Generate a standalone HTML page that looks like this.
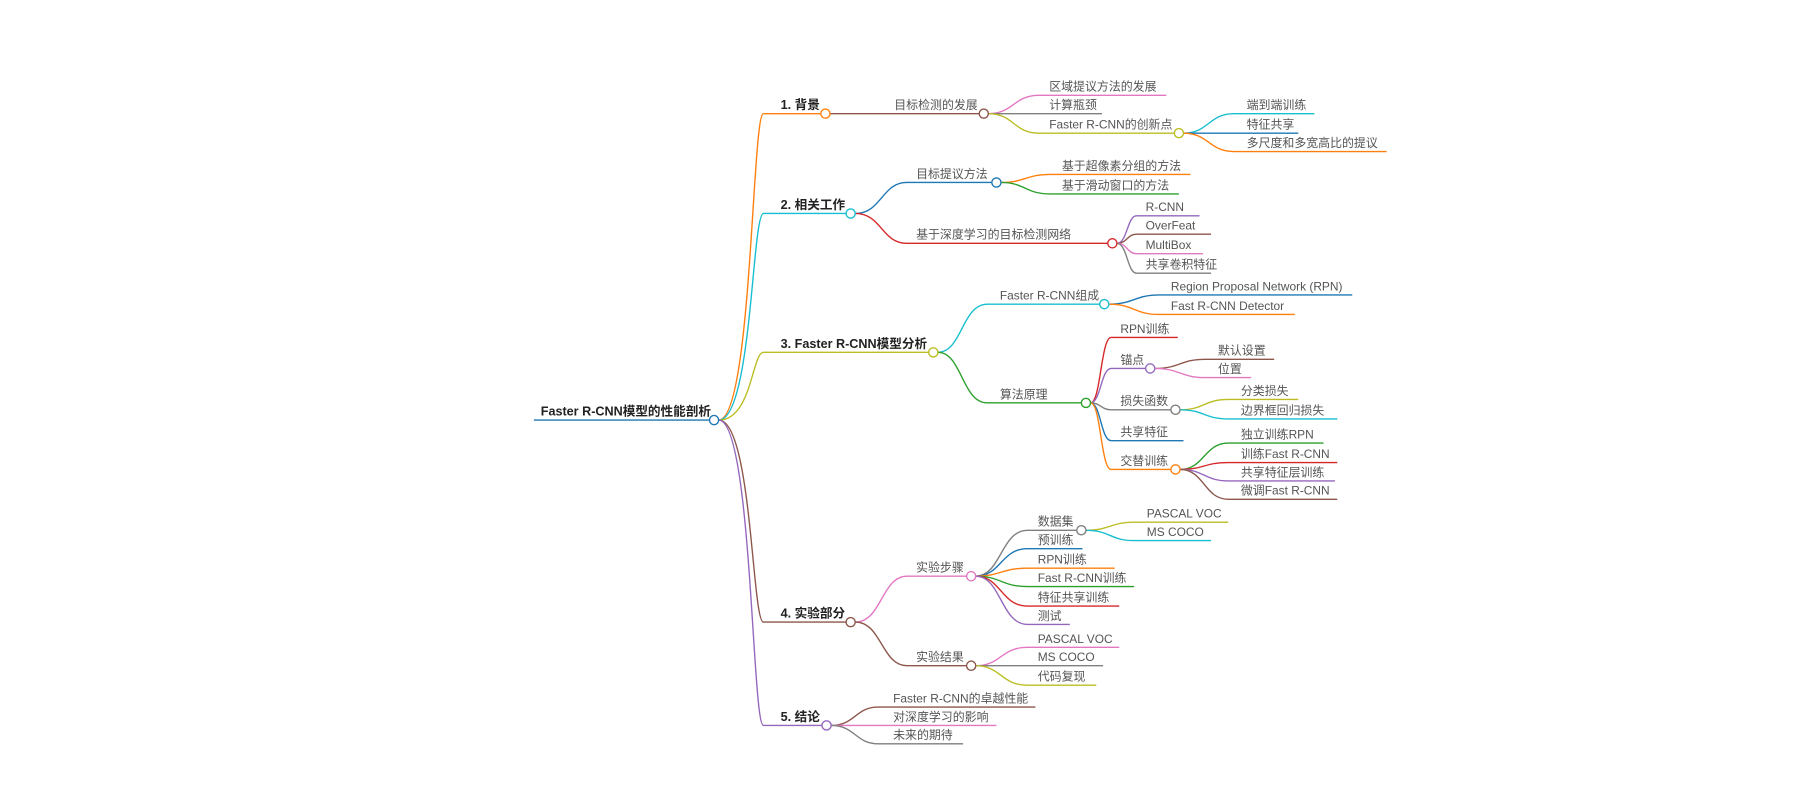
<!DOCTYPE html>
<html><head><meta charset="utf-8"><style>
html,body{margin:0;padding:0;background:#fff;width:1800px;height:800px;overflow:hidden}
svg text{font-family:"Liberation Sans","Noto Sans CJK SC",sans-serif;font-size:10.4px;fill:#555}
svg text.b{font-weight:bold;fill:#222;font-size:11px}
path{fill:none;stroke-width:1.2}
circle{fill:#fff;stroke-width:1.2}
</style></head><body>
<svg width="1800" height="800" viewBox="0 0 1568 697" xmlns="http://www.w3.org/2000/svg">
<path d="M465 366 L618 366" stroke="#1f77b4"/>
<path d="M626 366 C655 366,655 99,665 99 L715 99" stroke="#ff7f0e"/>
<path d="M626 366 C655 366,655 186,665 186 L737 186" stroke="#17becf"/>
<path d="M626 366 C655 366,655 307,665 307 L809 307" stroke="#bcbd22"/>
<path d="M626 366 C655 366,655 542,665 542 L737 542" stroke="#8c564b"/>
<path d="M626 366 C655 366,655 632,665 632 L716 632" stroke="#9467bd"/>
<path d="M723 99 L853 99" stroke="#8c564b"/>
<path d="M861 99 C883 99,883 83,905 83 L1016 83" stroke="#e377c2"/>
<path d="M861 99 L960 99" stroke="#7f7f7f"/>
<path d="M861 99 C883 99,883 116,905 116 L1023 116" stroke="#bcbd22"/>
<path d="M1031 116 C1053 116,1053 99,1075 99 L1145 99" stroke="#17becf"/>
<path d="M1031 116 L1131 116" stroke="#1f77b4"/>
<path d="M1031 116 C1053 116,1053 132,1075 132 L1208 132" stroke="#ff7f0e"/>
<path d="M745 186 C768 186,768 159,790 159 L864 159" stroke="#1f77b4"/>
<path d="M745 186 C768 186,768 212,790 212 L965 212" stroke="#d62728"/>
<path d="M872 159 C893 159,893 152,915 152 L1037 152" stroke="#ff7f0e"/>
<path d="M872 159 C893 159,893 169,915 169 L1027 169" stroke="#2ca02c"/>
<path d="M973 212 C982 212,982 188,990 188 L1045 188" stroke="#9467bd"/>
<path d="M973 212 C982 212,982 204,990 204 L1055 204" stroke="#8c564b"/>
<path d="M973 212 C982 212,982 221,990 221 L1048 221" stroke="#e377c2"/>
<path d="M973 212 C982 212,982 238,990 238 L1055 238" stroke="#7f7f7f"/>
<path d="M817 307 C838 307,838 265,860 265 L958 265" stroke="#17becf"/>
<path d="M817 307 C838 307,838 351,860 351 L942 351" stroke="#2ca02c"/>
<path d="M966 265 C988 265,988 257,1010 257 L1178 257" stroke="#1f77b4"/>
<path d="M966 265 C988 265,988 274,1010 274 L1128 274" stroke="#ff7f0e"/>
<path d="M950 351 C959 351,959 294,968 294 L1026 294" stroke="#d62728"/>
<path d="M950 351 C959 351,959 321,968 321 L998 321" stroke="#9467bd"/>
<path d="M950 351 C959 351,959 357,968 357 L1020 357" stroke="#7f7f7f"/>
<path d="M950 351 C959 351,959 384,968 384 L1031 384" stroke="#1f77b4"/>
<path d="M950 351 C959 351,959 409,968 409 L1020 409" stroke="#ff7f0e"/>
<path d="M1006 321 C1028 321,1028 313,1050 313 L1110 313" stroke="#8c564b"/>
<path d="M1006 321 C1028 321,1028 329,1050 329 L1090 329" stroke="#e377c2"/>
<path d="M1028 357 C1049 357,1049 348,1070 348 L1131 348" stroke="#bcbd22"/>
<path d="M1028 357 C1049 357,1049 365,1070 365 L1165 365" stroke="#17becf"/>
<path d="M1028 409 C1049 409,1049 386,1070 386 L1153 386" stroke="#2ca02c"/>
<path d="M1028 409 C1049 409,1049 403,1070 403 L1165 403" stroke="#d62728"/>
<path d="M1028 409 C1049 409,1049 419,1070 419 L1163 419" stroke="#9467bd"/>
<path d="M1028 409 C1049 409,1049 435,1070 435 L1165 435" stroke="#8c564b"/>
<path d="M745 542 C768 542,768 502,790 502 L842 502" stroke="#e377c2"/>
<path d="M745 542 C768 542,768 580,790 580 L842 580" stroke="#8c564b"/>
<path d="M850 502 C872 502,872 462,895 462 L938 462" stroke="#7f7f7f"/>
<path d="M850 502 C872 502,872 478,895 478 L943 478" stroke="#1f77b4"/>
<path d="M850 502 C872 502,872 495,895 495 L971 495" stroke="#ff7f0e"/>
<path d="M850 502 C872 502,872 511,895 511 L988 511" stroke="#2ca02c"/>
<path d="M850 502 C872 502,872 528,895 528 L975 528" stroke="#d62728"/>
<path d="M850 502 C872 502,872 544,895 544 L932 544" stroke="#9467bd"/>
<path d="M946 462 C967 462,967 455,988 455 L1070 455" stroke="#bcbd22"/>
<path d="M946 462 C967 462,967 471,988 471 L1055 471" stroke="#17becf"/>
<path d="M850 580 C872 580,872 564,895 564 L975 564" stroke="#e377c2"/>
<path d="M850 580 L961 580" stroke="#7f7f7f"/>
<path d="M850 580 C872 580,872 597,895 597 L955 597" stroke="#bcbd22"/>
<path d="M724 632 C745 632,745 616,765 616 L902 616" stroke="#8c564b"/>
<path d="M724 632 L868 632" stroke="#e377c2"/>
<path d="M724 632 C745 632,745 648,765 648 L839 648" stroke="#7f7f7f"/>
<circle cx="622" cy="366" r="4" stroke="#1f77b4"/>
<circle cx="719" cy="99" r="4" stroke="#ff7f0e"/>
<circle cx="741" cy="186" r="4" stroke="#17becf"/>
<circle cx="813" cy="307" r="4" stroke="#bcbd22"/>
<circle cx="741" cy="542" r="4" stroke="#8c564b"/>
<circle cx="720" cy="632" r="4" stroke="#9467bd"/>
<circle cx="857" cy="99" r="4" stroke="#8c564b"/>
<circle cx="1027" cy="116" r="4" stroke="#bcbd22"/>
<circle cx="868" cy="159" r="4" stroke="#1f77b4"/>
<circle cx="969" cy="212" r="4" stroke="#d62728"/>
<circle cx="962" cy="265" r="4" stroke="#17becf"/>
<circle cx="946" cy="351" r="4" stroke="#2ca02c"/>
<circle cx="1002" cy="321" r="4" stroke="#9467bd"/>
<circle cx="1024" cy="357" r="4" stroke="#7f7f7f"/>
<circle cx="1024" cy="409" r="4" stroke="#ff7f0e"/>
<circle cx="846" cy="502" r="4" stroke="#e377c2"/>
<circle cx="942" cy="462" r="4" stroke="#7f7f7f"/>
<circle cx="846" cy="580" r="4" stroke="#8c564b"/>
<text class="b" x="471" y="362">Faster R-CNN模型的性能剖析</text>
<text class="b" x="680" y="95">1. 背景</text>
<text class="b" x="680" y="182">2. 相关工作</text>
<text class="b" x="680" y="303">3. Faster R-CNN模型分析</text>
<text class="b" x="680" y="538">4. 实验部分</text>
<text class="b" x="680" y="628">5. 结论</text>
<text x="779" y="95">目标检测的发展</text>
<text x="914" y="79">区域提议方法的发展</text>
<text x="914" y="95">计算瓶颈</text>
<text x="914" y="112">Faster R-CNN的创新点</text>
<text x="1086" y="95">端到端训练</text>
<text x="1086" y="112">特征共享</text>
<text x="1086" y="128">多尺度和多宽高比的提议</text>
<text x="798" y="155">目标提议方法</text>
<text x="925" y="148">基于超像素分组的方法</text>
<text x="925" y="165">基于滑动窗口的方法</text>
<text x="798" y="208">基于深度学习的目标检测网络</text>
<text x="998" y="184">R-CNN</text>
<text x="998" y="200">OverFeat</text>
<text x="998" y="217">MultiBox</text>
<text x="998" y="234">共享卷积特征</text>
<text x="871" y="261">Faster R-CNN组成</text>
<text x="1020" y="253">Region Proposal Network (RPN)</text>
<text x="1020" y="270">Fast R-CNN Detector</text>
<text x="871" y="347">算法原理</text>
<text x="976" y="290">RPN训练</text>
<text x="976" y="317">锚点</text>
<text x="976" y="353">损失函数</text>
<text x="976" y="380">共享特征</text>
<text x="976" y="405">交替训练</text>
<text x="1061" y="309">默认设置</text>
<text x="1061" y="325">位置</text>
<text x="1081" y="344">分类损失</text>
<text x="1081" y="361">边界框回归损失</text>
<text x="1081" y="382">独立训练RPN</text>
<text x="1081" y="399">训练Fast R-CNN</text>
<text x="1081" y="415">共享特征层训练</text>
<text x="1081" y="431">微调Fast R-CNN</text>
<text x="798" y="498">实验步骤</text>
<text x="904" y="458">数据集</text>
<text x="904" y="474">预训练</text>
<text x="904" y="491">RPN训练</text>
<text x="904" y="507">Fast R-CNN训练</text>
<text x="904" y="524">特征共享训练</text>
<text x="904" y="540">测试</text>
<text x="999" y="451">PASCAL VOC</text>
<text x="999" y="467">MS COCO</text>
<text x="798" y="576">实验结果</text>
<text x="904" y="560">PASCAL VOC</text>
<text x="904" y="576">MS COCO</text>
<text x="904" y="593">代码复现</text>
<text x="778" y="612">Faster R-CNN的卓越性能</text>
<text x="778" y="628">对深度学习的影响</text>
<text x="778" y="644">未来的期待</text>
</svg>
</body></html>
